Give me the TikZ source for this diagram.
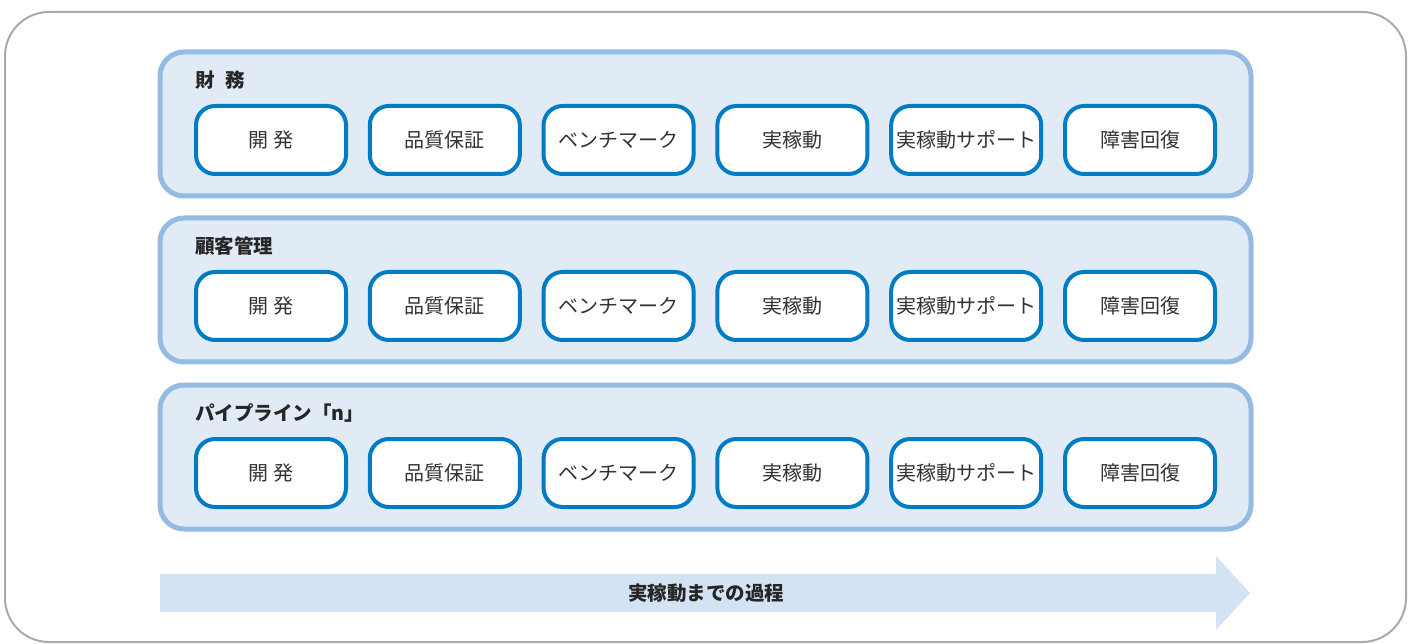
\documentclass[tikz,border=0pt]{standalone}
\usepackage{fontspec}
\setmainfont{Noto Sans CJK JP}
\definecolor{framegray}{HTML}{AAAAAA}
\definecolor{panelline}{HTML}{93BBE4}
\definecolor{panelfill}{HTML}{E1EBF6}
\definecolor{boxline}{HTML}{007CC4}
\definecolor{arrowfill}{HTML}{D3E3F3}
\definecolor{txt}{HTML}{333333}
\begin{document}
\begin{tikzpicture}[x=1pt,y=-1pt,
  frame/.style={draw=framegray,line width=2pt,rounded corners=44pt},
  panel/.style={draw=panelline,fill=panelfill,line width=5pt,rounded corners=24pt},
  stage/.style={draw=boxline,fill=white,line width=4pt,rounded corners=19pt,minimum width=150pt,minimum height=68pt,inner sep=0pt,font=\fontsize{20pt}{24pt}\selectfont,text=txt},
  title/.style={anchor=west,font=\fontsize{19.5pt}{23pt}\selectfont\bfseries,text=black!85,inner sep=0pt},
  flow/.style={fill=arrowfill,draw=none}]
\useasboundingbox (0,0) rectangle (1414,644);
\draw[frame] (5,12) rectangle (1406,642);
\foreach \i/\ttl/\y in {1/財\hspace{0.55em}務/52,2/顧客管理/218,3/パイプライン「n」/385}{
  \draw[panel] (160,\y) rectangle (1251,\y+144);
  \node[title] (t\i) at (195,\y+28) {\ttl};
  \foreach \j/\lab in {0/開 発,1/品質保証,2/ベンチマーク,3/実稼動,4/実稼動サポート,5/障害回復}{
    \node[stage] (b\i\j) at (271+\j*173.8,\y+88) {\lab};
  }
}
\fill[flow] (160,574) -- (1216,574) -- (1216,556) -- (1250,593) -- (1216,630) -- (1216,612) -- (160,612) -- cycle;
\node[font=\fontsize{19.5pt}{23pt}\selectfont\bfseries,text=black!85] (flowlabel) at (706,593) {実稼動までの過程};
\end{tikzpicture}
\end{document}
